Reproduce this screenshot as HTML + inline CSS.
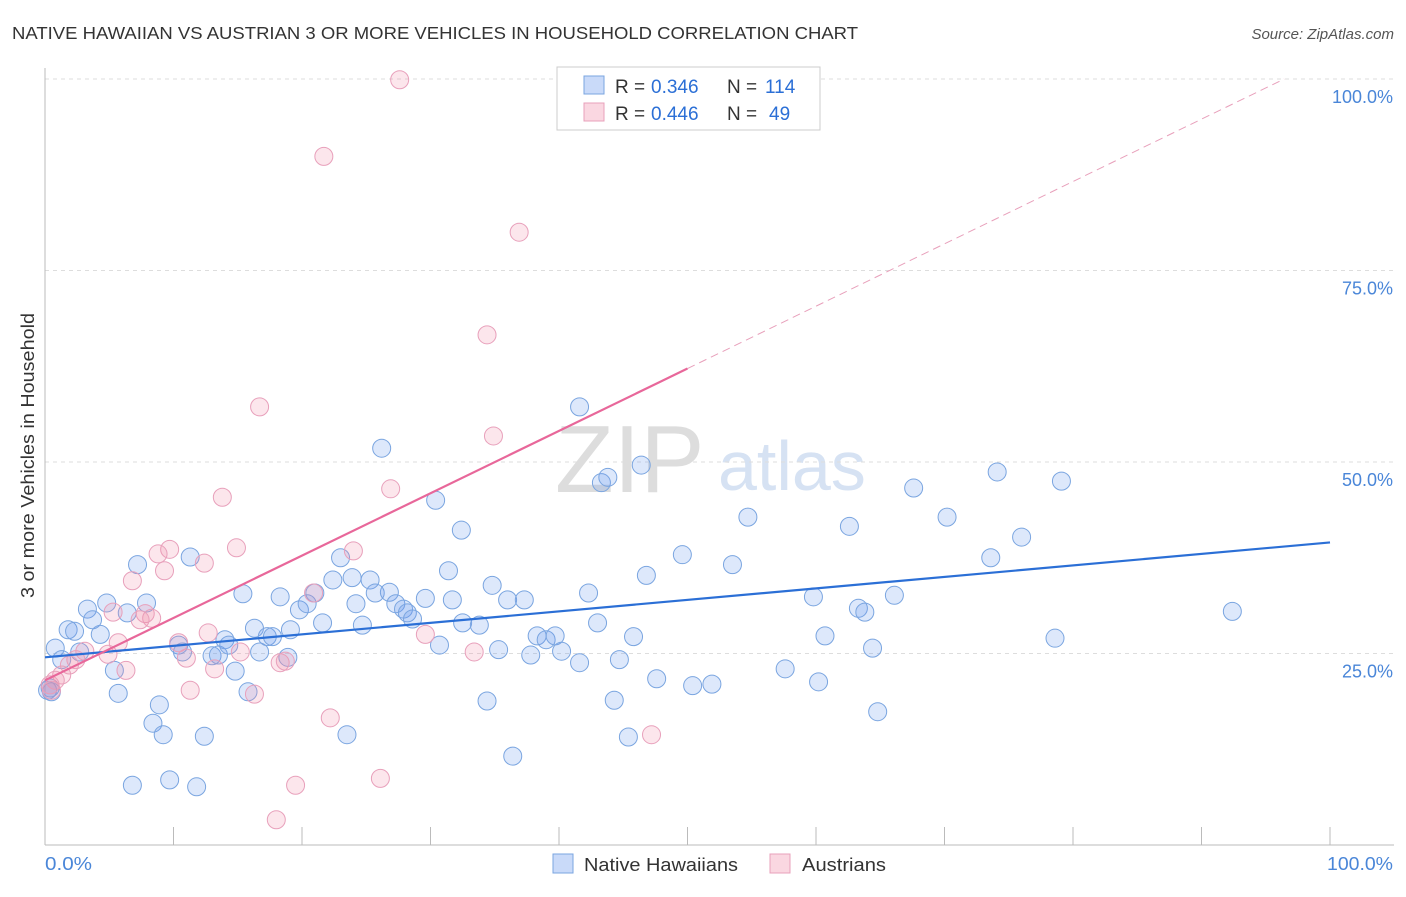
<!DOCTYPE html>
<html><head><meta charset="utf-8"><style>
body{margin:0;background:#fff;font-family:"Liberation Sans",sans-serif}
svg text{font-family:"Liberation Sans",sans-serif}
</style></head><body>
<svg id="c" width="1406" height="892">
<text x="12" y="39" font-size="17.5" fill="#333" textLength="846" lengthAdjust="spacingAndGlyphs">NATIVE HAWAIIAN VS AUSTRIAN 3 OR MORE VEHICLES IN HOUSEHOLD CORRELATION CHART</text>
<text x="1394" y="39" font-size="15" fill="#555" font-style="italic" text-anchor="end">Source: ZipAtlas.com</text>
<text transform="translate(34,598) rotate(-90)" font-size="18" fill="#333" textLength="285" lengthAdjust="spacingAndGlyphs">3 or more Vehicles in Household</text>
<text x="555" y="492" font-size="96" fill="#ddd" font-family="Liberation Serif">ZIP</text>
<text x="718" y="490" font-size="70" fill="#d6e2f3">atlas</text>
<g id="grid"></g><g id="marks"></g>
<g>
<rect x="557" y="67" width="263" height="63" fill="#fff" stroke="#ccc"/>
<rect x="584" y="76" width="20" height="18" fill="rgba(100,149,237,0.35)" stroke="#7aa5e0"/>
<rect x="584" y="103" width="20" height="18" fill="rgba(240,140,170,0.35)" stroke="#e8a0bb"/>
<text x="615" y="93" font-size="19" fill="#333">R =</text>
<text x="651" y="93" font-size="19" fill="#2b6fd6">0.346</text>
<text x="727" y="93" font-size="19" fill="#333">N =</text>
<text x="765" y="93" font-size="19" fill="#2b6fd6">114</text>
<text x="615" y="120" font-size="19" fill="#333">R =</text>
<text x="651" y="120" font-size="19" fill="#2b6fd6">0.446</text>
<text x="727" y="120" font-size="19" fill="#333">N =</text>
<text x="769" y="120" font-size="19" fill="#2b6fd6">49</text>
</g>
<g>
<rect x="553" y="854" width="20" height="19" fill="rgba(100,149,237,0.35)" stroke="#7aa5e0"/>
<text x="584" y="871" font-size="18" fill="#333" textLength="154" lengthAdjust="spacingAndGlyphs">Native Hawaiians</text>
<rect x="770" y="854" width="20" height="19" fill="rgba(240,140,170,0.35)" stroke="#e8a0bb"/>
<text x="802" y="871" font-size="18" fill="#333" textLength="84" lengthAdjust="spacingAndGlyphs">Austrians</text>
</g>
<text x="45" y="870" font-size="18" fill="#4a86d8" textLength="47" lengthAdjust="spacingAndGlyphs">0.0%</text>
<text x="1327" y="870" font-size="18" fill="#4a86d8" textLength="66" lengthAdjust="spacingAndGlyphs">100.0%</text>
</svg>
<script>
const yTicks=[25,50,75,100];
const yTickLabels=["25.0%","50.0%","75.0%","100.0%"];
const blueX=[0.8,1.3,1.8,2.3,3.3,2.7,3.7,4.3,4.8,5.4,5.7,6.4,7.2,7.9,8.4,8.9,9.2,6.8,9.7,10.4,10.7,11.3,11.8,12.4,13.0,13.5,14.0,14.3,14.8,15.4,15.8,16.3,16.7,17.3,17.7,18.3,18.9,19.1,19.8,20.4,21.0,21.6,22.4,23.0,23.5,23.9,24.2,24.7,25.3,25.7,26.2,26.8,27.3,27.9,28.2,28.6,29.6,30.4,30.7,31.4,31.7,32.4,32.5,33.8,34.4,34.8,35.3,36.0,36.4,37.3,37.8,38.3,39.0,39.7,40.2,41.6,41.6,42.3,43.0,43.3,43.8,44.3,44.7,45.4,45.8,46.4,46.8,47.6,49.6,50.4,51.9,53.5,54.7,57.6,59.8,60.2,60.7,62.6,63.3,63.8,64.4,64.8,66.1,67.6,70.2,73.6,74.1,76.0,78.6,79.1,92.4,0.2,0.4,0.5];
const blueY=[25.7,24.2,28.1,27.9,30.8,25.2,29.4,27.5,31.6,22.8,19.8,30.3,36.6,31.6,15.9,18.3,14.4,7.8,8.5,26.1,25.2,37.6,7.6,14.2,24.7,24.8,26.8,26.1,22.7,32.8,20.0,28.3,25.2,27.2,27.2,32.4,24.5,28.1,30.7,31.5,32.9,29.0,34.6,37.5,14.4,34.9,31.5,28.7,34.6,32.9,51.8,33.0,31.5,30.8,30.3,29.5,32.2,45.0,26.1,35.8,32.0,41.1,29.0,28.7,18.8,33.9,25.5,32.0,11.6,32.0,24.8,27.3,26.8,27.3,25.3,23.8,57.2,32.9,29.0,47.3,48.0,18.9,24.2,14.1,27.2,49.6,35.2,21.7,37.9,20.8,21.0,36.6,42.8,23.0,32.4,21.3,27.3,41.6,30.9,30.4,25.7,17.4,32.6,46.6,42.8,37.5,48.7,40.2,27.0,47.5,30.5,20.2,20.5,20.0];
const pinkX=[27.6,21.7,36.9,34.4,16.7,34.9,26.9,13.8,14.9,9.7,24.0,8.8,12.4,9.3,6.8,7.8,8.3,7.4,5.3,5.7,4.9,3.1,2.4,1.9,1.3,0.8,0.4,0.5,10.4,11.0,12.7,13.2,15.2,16.3,11.3,18.3,18.7,20.9,22.2,29.6,33.4,47.2,26.1,19.5,18.0,6.3,41.2];
const pinkY=[99.9,89.9,80.0,66.6,57.2,53.4,46.5,45.4,38.8,38.6,38.4,38.0,36.8,35.8,34.5,30.2,29.6,29.4,30.4,26.4,24.9,25.3,24.2,23.5,22.2,21.5,20.9,20.2,26.4,24.4,27.7,23.0,25.2,19.7,20.2,23.8,24.0,32.9,16.6,27.5,25.2,14.4,8.7,7.8,3.3,22.8,99.9];
const blueTrend=[24.5,39.5];
const pinkTrend=[21.5,0.814];
const NS="http://www.w3.org/2000/svg";
const X=v=>45+v*12.85, Y=v=>845-v*7.66;
function mk(t,a,p){const e=document.createElementNS(NS,t);for(const k in a)e.setAttribute(k,a[k]);p.appendChild(e);return e;}
const grid=document.getElementById('grid'),marks=document.getElementById('marks');
yTicks.forEach((t,i)=>{
 const l=mk('line',{x1:45,x2:1394,y1:Y(t),y2:Y(t),stroke:'#ddd','stroke-dasharray':'4,4'},grid);
 
 
 const tx=mk('text',{x:1393,y:Y(t)+24,'font-size':18,fill:'#4a86d8','text-anchor':'end'},grid);
 tx.textContent=yTickLabels[i];
 
 
});
const ax=mk('line',{x1:45,x2:45,y1:68,y2:845,stroke:'#bbb'},grid);


const bx=mk('line',{x1:45,x2:1394,y1:845,y2:845,stroke:'#bbb'},grid);


for(let i=0;i<=10;i++){const t=mk('line',{x1:X(i*10),x2:X(i*10),y1:827,y2:845,stroke:'#bbb'},grid);
 
 }
function dots(xs,ys,fill,stroke,name){xs.forEach((x,i)=>{const c=mk('circle',{cx:X(x),cy:Y(ys[i]),r:9,fill:fill,stroke:stroke,'stroke-width':1},marks);
 
 });}
dots(blueX,blueY,'rgba(100,149,237,0.22)','#7aa5e0','native-hawaiian-point');
dots(pinkX,pinkY,'rgba(240,140,170,0.22)','#e8a0bb','austrian-point');
const bl=mk('line',{x1:X(0),y1:Y(blueTrend[0]),x2:X(100),y2:Y(blueTrend[1]),stroke:'#2b6fd6','stroke-width':2.2},marks);


const pEnd=(100-pinkTrend[0])/pinkTrend[1];
const pl=mk('line',{x1:X(0),y1:Y(pinkTrend[0]),x2:X(50),y2:Y(pinkTrend[0]+50*pinkTrend[1]),stroke:'#e8679a','stroke-width':2.2},marks);


const pd=mk('line',{x1:X(50),y1:Y(pinkTrend[0]+50*pinkTrend[1]),x2:X(pEnd),y2:Y(100),stroke:'#e8a0bb','stroke-width':1,'stroke-dasharray':'8,5'},marks);


</script>
</body></html>
